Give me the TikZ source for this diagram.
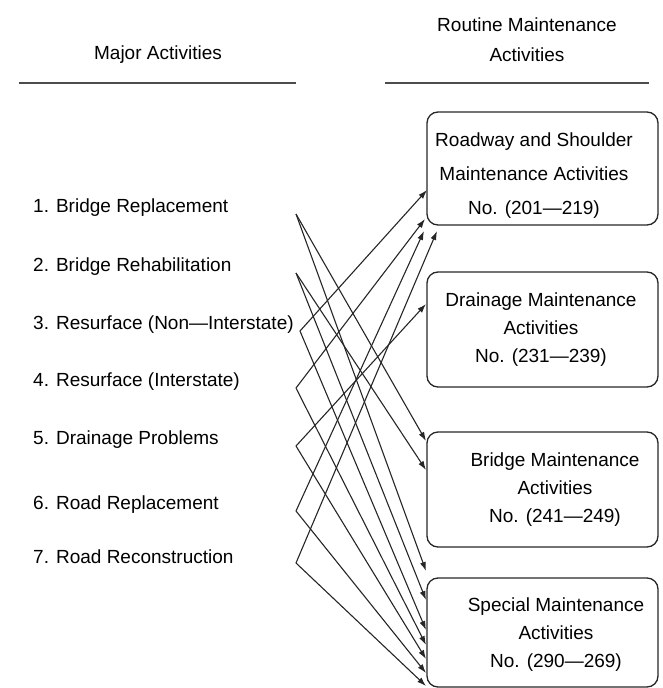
\documentclass[tikz,border=0pt]{standalone}
\usepackage{fontspec}
\setmainfont{Liberation Sans}
\usetikzlibrary{arrows.meta}

\tikzset{
  item/.style={anchor=west, inner sep=0pt, font=\fontsize{19}{23}\selectfont},
  head/.style={align=center, inner sep=0pt, font=\fontsize{19}{30}\selectfont},
  headrule/.style={draw=black!70, line width=1.6pt},
  mbox/.style={draw=black!85, line width=1.3pt, rounded corners=11pt, minimum width=231pt, inner sep=0pt},
  btext/.style={align=center, inner sep=0pt, font=\fontsize{19}{28}\selectfont},
  link/.style={draw=black!85, line width=1.1pt, -{Latex[length=9pt,width=6pt]}},
}

\begin{document}
\begin{tikzpicture}[x=1pt,y=-1pt]
            \useasboundingbox (0,0) rectangle (662,688);

            % Column headings
            \node[head] (hmajor) at (158,55) {Major Activities};
            \node[head] (hroutine) at (527,40) {Routine Maintenance\\Activities};
            \coordinate (ml) at (19,83);
            \coordinate (mr) at (296,83);
            \coordinate (rl) at (385,83);
            \coordinate (rr) at (649,83);
            \draw[headrule] (ml) -- (mr);
            \draw[headrule] (rl) -- (rr);

            % Major activities and the points the lines leave from
            \foreach \i/\y/\x/\t in {1/208/296/Bridge Replacement,
                                     2/267/296/Bridge Rehabilitation,
                                     3/325/300/Resurface (Non---Interstate),
                                     4/382/296/Resurface (Interstate),
                                     5/440/296/Drainage Problems,
                                     6/505/296/Road Replacement,
                                     7/557/296/Road Reconstruction}{
                \node[item] (a\i) at (33,\y) {\i. \t};
                \coordinate (v\i) at (\x,\y+6);
            }

            % Routine maintenance boxes
            \node[mbox, minimum height=113pt] (rb1) at (542.5,168.5) {};
            \node[mbox, minimum height=115pt] (rb2) at (542.5,329.5) {};
            \node[mbox, minimum height=115pt] (rb3) at (542.5,489.5) {};
            \node[mbox, minimum height=109pt] (rb4) at (542.5,632.5) {};

            \node[btext, font=\fontsize{19}{34}\selectfont] (rt1) at (534,176) {Roadway and Shoulder\\Maintenance Activities\\No. (201---219)};
            \node[btext] (rt2) at (541,330) {Drainage Maintenance\\Activities\\No. (231---239)};
            \node[btext] (rt3) at (555,490) {Bridge Maintenance\\Activities\\No. (241---249)};
            \node[btext] (rt4) at (556,635) {Special Maintenance\\Activities\\No. (290---269)};

            % Arrow ends on the boxes
            \coordinate (e1a) at (427,190);
            \coordinate (e1b) at (425,219);
            \coordinate (e1c) at (424,231);
            \coordinate (e1d) at (437,231);
            \coordinate (e2a) at (426,304);
            \coordinate (e3a) at (426,441);
            \coordinate (e3b) at (426,470);
            \foreach \j/\y in {a/571, b/600, c/630, d/645, e/659, f/673, g/686}
                \coordinate (e4\j) at (426,\y);

            % Links
            \foreach \s/\e in {v1/e3a, v1/e4a, v2/e3b, v2/e4b, v3/e1a, v3/e4c,
                               v4/e1b, v4/e4d, v5/e2a, v5/e4e, v6/e1c, v6/e4f,
                               v7/e1d, v7/e4g}
                \draw[link] (\s) -- (\e);

\end{tikzpicture}
\end{document}
